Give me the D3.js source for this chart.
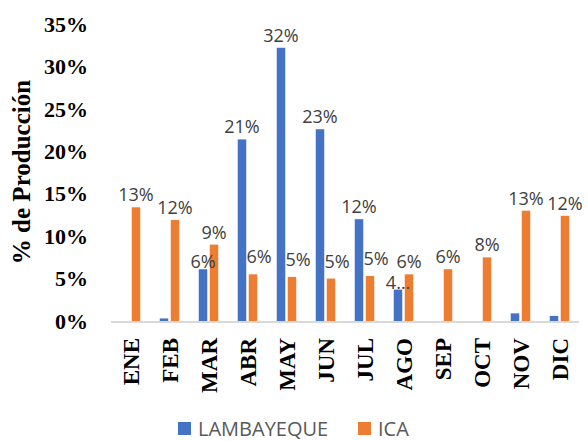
<!DOCTYPE html>
<html>
<head>
<meta charset="utf-8">
<script src="https://cdn.jsdelivr.net/npm/d3@7"></script>
<style>
  body { margin: 0; background: #fff; }
</style>
</head>
<body>
<div class="chart"></div>
<script>
const width = 588;
const height = 441;

const months = ["ENE", "FEB", "MAR", "ABR", "MAY", "JUN", "JUL", "AGO", "SEP", "OCT", "NOV", "DIC"];
const seriesNames = ["LAMBAYEQUE", "ICA"];
const lambayeque = [0, 0.3, 6.1, 21.4, 32.2, 22.6, 12.0, 3.7, 0, 0, 0.9, 0.6];
const ica = [13.4, 11.9, 9.0, 5.5, 5.2, 5.0, 5.3, 5.5, 6.1, 7.5, 13.0, 12.4];
const lambLabels = ["", "", "6%", "21%", "32%", "23%", "12%", "4…", "", "", "", ""];
const icaLabels = ["13%", "12%", "9%", "6%", "5%", "5%", "5%", "6%", "6%", "8%", "13%", "12%"];
const yTicks = [0, 5, 10, 15, 20, 25, 30, 35];
const colors = ["#4472C4", "#ED7D31"];

const svg = d3.select('.chart')
    .append('svg')
    .attr('width', width)
    .attr('height', height)

const x = d3.scaleBand().domain(months).range([111, 579]).padding(0)
const x1 = d3.scaleBand().domain(seriesNames).range([0, x.bandwidth()])
    .paddingInner(0.227).paddingOuter(0.886)
const y = d3.scaleLinear().domain([0, 35]).range([321, 24])

// when both labels show, the lower one is nudged so they don't collide
const rows = months.map((m, i) => {
    const both = lambLabels[i] !== "" && icaLabels[i] !== ""
    const icaLower = ica[i] < lambayeque[i]
    return {
        month: m,
        values: [
            {name: "LAMBAYEQUE", value: lambayeque[i], label: lambLabels[i],
             dx: 0, gap: both && !icaLower ? 1 : 6},
            {name: "ICA", value: ica[i], label: icaLabels[i],
             dx: both && icaLower ? 6 : 0, gap: both && icaLower ? 11 : 6},
        ]
    }
})

// y tick labels
svg.append('g')
    .selectAll('text')
    .data(yTicks)
    .enter()
    .append('text')
    .attr('x', 88)
    .attr('y', d => y(d))
    .attr('dy', '0.35em')
    .attr('text-anchor', 'end')
    .attr('font-family', '"Liberation Serif", "Times New Roman", serif')
    .attr('font-weight', 'bold')
    .attr('font-size', 22)
    .attr('fill', '#000')
    .text(d => d + '%')

// y title
svg.append('text')
    .attr('transform', 'translate(30,172) rotate(-90)')
    .attr('text-anchor', 'middle')
    .attr('font-family', '"Liberation Serif", "Times New Roman", serif')
    .attr('font-weight', 'bold')
    .attr('font-size', 25)
    .text('% de Producción')

const groups = svg.selectAll('.month')
    .data(rows)
    .enter()
    .append('g')
    .attr('transform', d => `translate(${x(d.month)},0)`)

groups.selectAll('rect')
    .data(d => d.values)
    .enter()
    .append('rect')
    .attr('x', d => x1(d.name))
    .attr('width', x1.bandwidth())
    .attr('y', d => y(d.value))
    .attr('height', d => y(0) - y(d.value))
    .attr('fill', (d, i) => colors[i])

// baseline
svg.append('line')
    .attr('x1', x.range()[0])
    .attr('x2', x.range()[1])
    .attr('y1', y(0) + 1)
    .attr('y2', y(0) + 1)
    .attr('stroke', '#d9d9d9')
    .attr('stroke-width', 2)

// data labels
groups.selectAll('.lbl')
    .data(d => d.values.filter(v => v.label !== ""))
    .enter()
    .append('text')
    .attr('class', 'lbl')
    .attr('x', d => x1(d.name) + x1.bandwidth() / 2 + d.dx)
    .attr('y', d => y(d.value) - d.gap)
    .attr('text-anchor', 'middle')
    .attr('font-family', '"Open Sans", sans-serif')
    .attr('font-size', 18)
    .attr('fill', '#404040')
    .text(d => d.label)

// month labels
svg.append('g')
    .selectAll('text')
    .data(months)
    .enter()
    .append('text')
    .attr('transform', d => `translate(${x(d) + x.bandwidth() / 2},338) rotate(-90)`)
    .attr('text-anchor', 'end')
    .attr('dy', '0.35em')
    .attr('font-family', '"Liberation Serif", "Times New Roman", serif')
    .attr('font-weight', 'bold')
    .attr('font-size', 23)
    .text(d => d)

// legend
const legendX = [178, 358];
const legend = svg.selectAll('.legend')
    .data(seriesNames)
    .enter()
    .append('g')
    .attr('transform', (d, i) => `translate(${legendX[i]},422)`)

legend.append('rect')
    .attr('width', 13)
    .attr('height', 13)
    .attr('fill', (d, i) => colors[i])

legend.append('text')
    .attr('x', 20)
    .attr('y', 13.5)
    .attr('font-family', '"Open Sans", sans-serif')
    .attr('font-size', 20)
    .attr('fill', '#595959')
    .text(d => d)
</script>
</body>
</html>
